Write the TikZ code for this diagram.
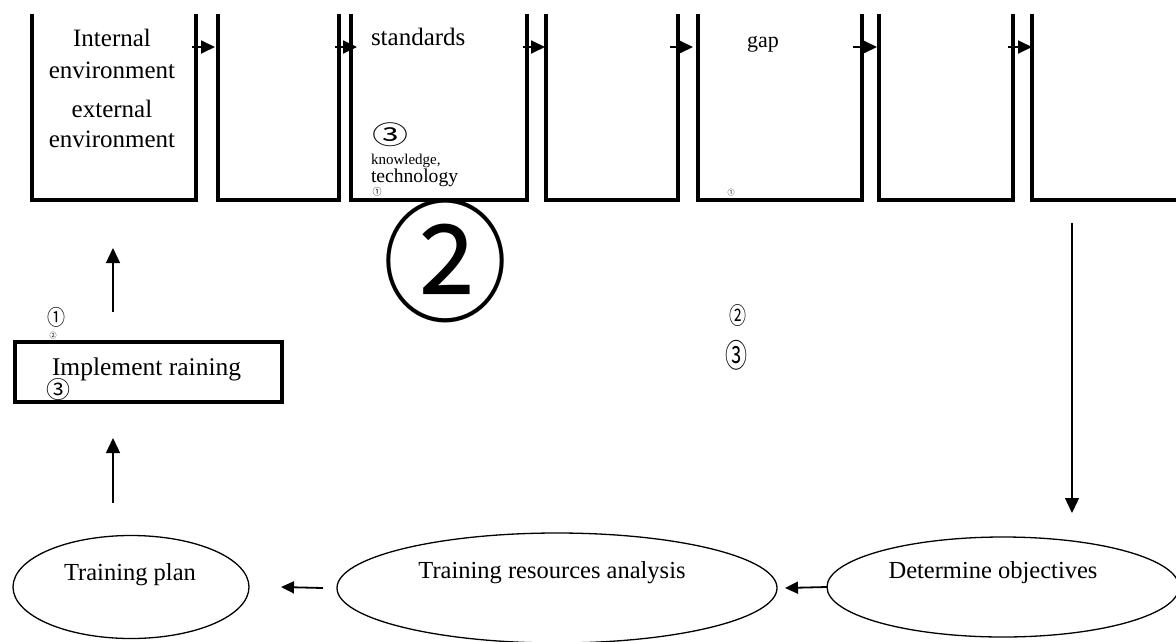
\documentclass[tikz,border=0pt]{standalone}
\usepackage{fontspec}
\usepackage{graphicx}
\setmainfont{Liberation Serif}
\newfontfamily\circfont{Noto Sans CJK SC}
\usetikzlibrary{arrows.meta,shapes.geometric,calc}
\newcommand{\cdig}[3]{\resizebox*{#1}{#2}{\circfont #3}}
\begin{document}
\begin{tikzpicture}[x=1pt,y=-1pt,
  every node/.style={outer sep=0pt},
  boxline/.style={line width=3.8pt},
  stage/.style={draw=none,rectangle,inner sep=0pt,anchor=north west,minimum height=186pt},
  arr/.style={line width=1.8pt,-{Triangle[length=14pt,width=13pt]}},
  varr/.style={line width=1.4pt,-{Triangle[length=15pt,width=14pt]}},
  harr/.style={line width=1.8pt,-{Triangle[length=13pt,width=12pt]}},
  ell/.style={draw,ellipse,line width=1.3pt,inner sep=0pt},
  txt/.style={font=\fontsize{25}{30}\selectfont,anchor=base,inner sep=0pt},
  etxt/.style={font=\fontsize{24.5}{29}\selectfont,anchor=base,inner sep=0pt},
  circ/.style={inner sep=0pt}
]
\useasboundingbox (0,0) rectangle (1176,641);

% top stages (open-topped boxes)
\node[stage,minimum width=164pt] (b1) at (32,14) {};
\node[stage,minimum width=121pt] (b2) at (218,14) {};
\node[stage,minimum width=176pt] (b3) at (351,14) {};
\node[stage,minimum width=132pt] (b4) at (546,14) {};
\node[stage,minimum width=164pt] (b5) at (698,14) {};
\node[stage,minimum width=134pt] (b6) at (879,14) {};
\node[stage,minimum width=150pt] (b7) at (1032,14) {};
\foreach \b in {b1,b2,b3,b4,b5,b6}{
  \draw[boxline] (\b.north west) -- (\b.south west) -- (\b.south east) -- (\b.north east);
}
\draw[boxline] (b7.north west) -- (b7.south west) -- (b7.south east);

% arrows between stages
\draw[arr] ($(b1.north east)+(-4,33)$) -- ($(b2.north west)+(-3,33)$);
\draw[arr] ($(b2.north east)+(-4,33)$) -- ($(b3.north west)+(6,33)$);
\draw[arr] ($(b3.north east)+(-4,33)$) -- ($(b4.north west)+(-1,33)$);
\draw[arr] ($(b4.north east)+(-8,33)$) -- ($(b5.north west)+(-5,33)$);
\draw[arr] ($(b5.north east)+(-9,33)$) -- ($(b6.north west)+(-2,33)$);
\draw[arr] ($(b6.north east)+(-5,33)$) -- ($(b7.north west)+(0,33)$);

% texts in stages
\node[txt] (t1) at (112,46) {Internal};
\node[txt] (t2) at (112,78) {environment};
\node[txt] (t3) at (112,117) {external};
\node[txt] (t4) at (112,147) {environment};
\node[txt,anchor=base west] (t5) at (371,45) {standards};
\node[circ] (c3a) at (390,135) {\cdig{36pt}{24pt}{③}};
\node[anchor=base west,inner sep=0pt,font=\fontsize{15}{18}\selectfont] (t6) at (371,164) {knowledge,};
\node[anchor=base west,inner sep=0pt,font=\fontsize{19.6}{23}\selectfont] (t7) at (371,182) {technology};
\node[circ] (c1a) at (377,192) {\cdig{9pt}{9pt}{①}};
\node[circ] (c2big) at (445,261) {\cdig{126pt}{124pt}{②}};
\node[anchor=base west,inner sep=0pt,font=\fontsize{22}{26}\selectfont] (t8) at (747,47) {gap};
\node[circ] (c1b) at (731,193) {\cdig{7pt}{7pt}{①}};
\node[circ] (c2r) at (738,316) {\cdig{17pt}{22pt}{②}};
\node[circ] (c3r) at (736,355) {\cdig{22pt}{30pt}{③}};

% implement box
\node[draw,line width=3.5pt,rectangle,inner sep=0pt,minimum width=267pt,minimum height=60pt] (ib) at (148.5,372) {};
\node[anchor=base west,inner sep=0pt,font=\fontsize{25.5}{30}\selectfont] (t9) at (52,375) {Implement raining};
\node[circ] (c3l) at (58,390) {\cdig{24pt}{22pt}{③}};
\node[circ] (c1l) at (57,317) {\cdig{18pt}{20pt}{①}};
\node[circ] (c2l) at (53,336) {\cdig{7pt}{7pt}{②}};

% ellipses
\node[ell,minimum width=236pt,minimum height=103pt] (tp) at (131,587) {};
\node[ell,minimum width=440pt,minimum height=110pt] (tra) at (557,588) {};
\node[ell,minimum width=352pt,minimum height=100pt] (do) at (1003,587) {};
\node[etxt] (tpt) at (130,580) {Training plan};
\node[etxt] (trat) at (552,578) {Training resources analysis};
\node[etxt] (dot) at (993,578) {Determine objectives};

% vertical and horizontal connectors
\coordinate (vs) at ($(b7.south west)+(40,23)$);
\coordinate (ve) at ($(do.north)+(69,-24)$);
\draw[varr] (vs) -- (ve);
\draw[harr] (do.west) -- ($(tra.east)+(8,0)$);
\draw[harr] ($(tra.west)+(-14,0)$) -- ($(tp.east)+(32,0)$);
\draw[varr] ($(ib.north west)+(98,-30)$) -- ($(b1.south west)+(81,48)$);
\draw[varr] ($(tp.north)+(-18,-33)$) -- ($(ib.south west)+(98,36)$);
\end{tikzpicture}
\end{document}
